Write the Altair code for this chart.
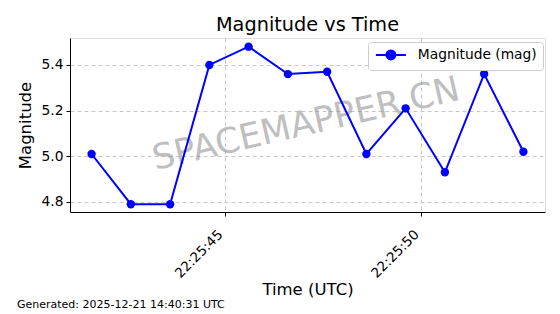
import altair as alt
import pandas as pd

times = [
    "2025-12-21T22:25:41.600Z", "2025-12-21T22:25:42.600Z", "2025-12-21T22:25:43.600Z",
    "2025-12-21T22:25:44.600Z", "2025-12-21T22:25:45.600Z", "2025-12-21T22:25:46.600Z",
    "2025-12-21T22:25:47.600Z", "2025-12-21T22:25:48.600Z", "2025-12-21T22:25:49.600Z",
    "2025-12-21T22:25:50.600Z", "2025-12-21T22:25:51.600Z", "2025-12-21T22:25:52.600Z",
]
magnitudes = [5.01, 4.79, 4.79, 5.40, 5.48, 5.36, 5.37, 5.01, 5.21, 4.93, 5.36, 5.02]
series_name = "Magnitude (mag)"
y_ticks = [4.8, 5.0, 5.2, 5.4]
title_text = "Magnitude vs Time"
x_title = "Time (UTC)"
y_title = "Magnitude"
footer_text = "Generated: 2025-12-21 14:40:31 UTC"
watermark_text = "SPACEMAPPER.CN"

FONT = "DejaVu Sans"


def dt(sec, ms=0):
    return alt.DateTime(year=2025, month=12, date=21, hours=22, minutes=25,
                        seconds=sec, milliseconds=ms, utc=True)


df = pd.DataFrame({"time": times, "mag": magnitudes, "series": [series_name] * len(times)})

legend_path = "M-1,0H5M1.1,0A0.9,0.9 0 1 1 2.9,0A0.9,0.9 0 1 1 1.1,0Z"

axis_common = dict(
    titleFontSize=16.5, titleFontWeight="normal",
    grid=True, gridDash=[4, 3], gridColor="#c8c8c8",
    tickColor="black", tickSize=4, domainColor="black", labelColor="black",
    titleColor="black", labelFont=FONT, titleFont=FONT,
)

x_enc = alt.X(
    "time:T",
    scale=alt.Scale(type="utc", domain=[dt(41, 50), dt(53, 150)]),
    axis=alt.Axis(
        title=x_title, values=[dt(45), dt(50)], format="%H:%M:%S",
        labelAngle=-45, labelAlign="right", labelBaseline="alphabetic",
        labelFontSize=13.6, labelPadding=19, labelOffset=-2, titlePadding=1,
        **axis_common,
    ),
)
y_enc = alt.Y(
    "mag:Q",
    scale=alt.Scale(domain=[4.756, 5.518], nice=False, zero=False),
    axis=alt.Axis(
        title=y_title, values=y_ticks, format=".1f", labelFontSize=13.8,
        labelPadding=3, titlePadding=8, **axis_common,
    ),
)

line = alt.Chart(df).mark_line(
    strokeWidth=2, point=alt.OverlayMarkDef(filled=True, size=70, opacity=1)
).encode(
    x=x_enc,
    y=y_enc,
    color=alt.Color(
        "series:N",
        scale=alt.Scale(domain=[series_name], range=["blue"]),
        legend=alt.Legend(
            title=None, orient="none", legendX=298, legendY=4,
            symbolType=legend_path, symbolSize=100, symbolStrokeWidth=2,
            symbolFillColor="blue", labelFontSize=13.8, labelFont=FONT,
            labelColor="black", fillColor="white", strokeColor="#cccccc",
            cornerRadius=3, padding=6, labelOffset=30,
        ),
    ),
)

wm = alt.Chart(pd.DataFrame({"t": [watermark_text]})).mark_text(
    fontSize=35, font=FONT, angle=347, align="center", baseline="middle",
    color="gray", opacity=0.5,
).encode(text="t:N", x=alt.value(236), y=alt.value(86))

footer = alt.Chart(pd.DataFrame({"t": [footer_text]})).mark_text(
    fontSize=11, font=FONT, align="left", baseline="middle", color="black",
).encode(text="t:N", x=alt.value(-53), y=alt.value(267))

chart = alt.layer(wm, line, footer).properties(
    width=475, height=174,
    title=alt.TitleParams(title_text, fontSize=19.3, font=FONT, fontWeight="normal",
                          color="black", anchor="middle", offset=3),
    padding={"left": 70, "top": 38, "right": 15, "bottom": 102},
    autosize=alt.AutoSizeParams(type="none"),
).configure_view(stroke="black", strokeWidth=1.2).configure(background="white")

chart.save("out.html", embed_options={"renderer": "svg", "actions": False})
